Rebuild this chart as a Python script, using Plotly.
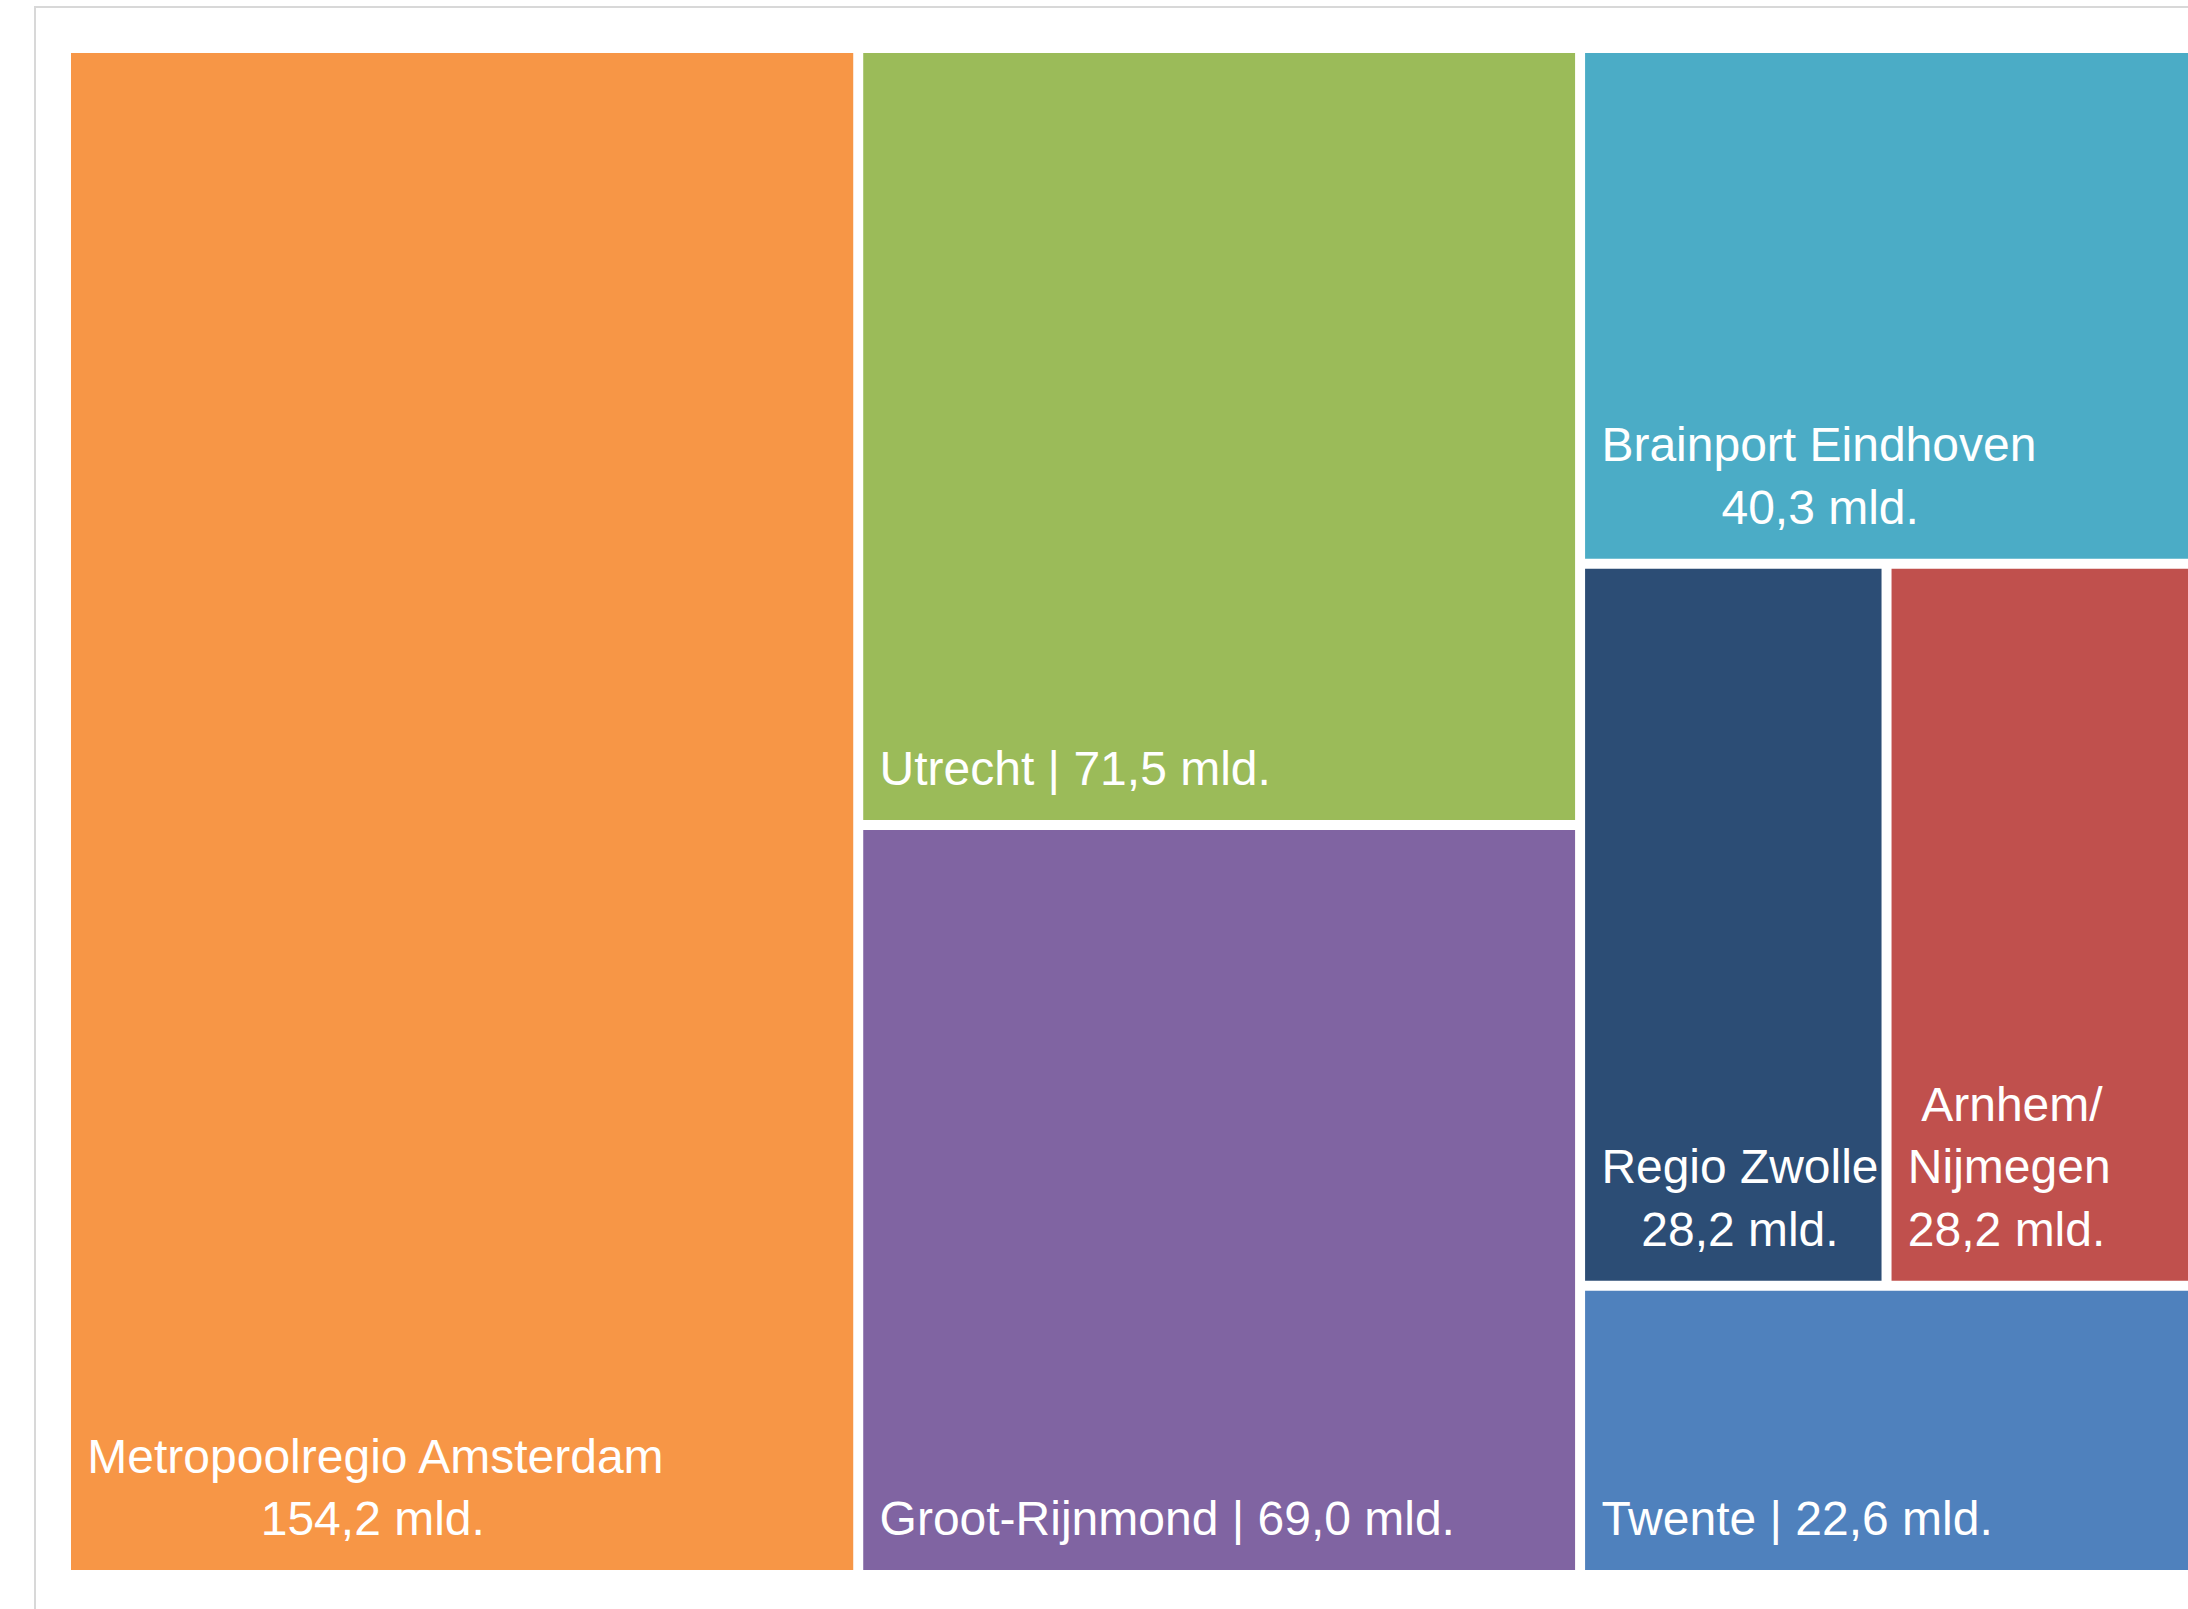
import plotly.graph_objects as go

# ---- data -------------------------------------------------------------
regions = ["Metropoolregio Amsterdam", "Utrecht", "Groot-Rijnmond",
           "Brainport Eindhoven", "Regio Zwolle", "Arnhem/|Nijmegen", "Twente"]
values = [154.2, 71.5, 69.0, 40.3, 28.2, 28.2, 22.6]
value_unit = "mld."
two_line = [True, False, False, True, True, True, False]
colors = ["#F79646", "#9BBB59", "#8064A2", "#4BACC6", "#2C4D75", "#C0504D", "#4F81BD"]
# tiling structure: columns (left->right), rows inside columns, etc.
tiling = [[0], [1, 2], [3, [4, 5], 6]]

# ---- label helpers ----------------------------------------------------
ARIAL = {' ': 278, ',': 278, '-': 333, '.': 278, '/': 278, '|': 260,
         'A': 667, 'B': 667, 'E': 667, 'G': 778, 'M': 833, 'N': 722, 'R': 722,
         'T': 611, 'U': 722, 'Z': 611,
         'a': 556, 'b': 556, 'c': 500, 'd': 556, 'e': 556, 'g': 556, 'h': 556,
         'i': 222, 'j': 222, 'l': 222, 'm': 833, 'n': 556, 'o': 556, 'p': 556,
         'r': 333, 's': 500, 't': 278, 'u': 556, 'v': 500, 'w': 722}
for d in "0123456789":
    ARIAL[d] = 556


def width(s):
    return sum(ARIAL.get(c, 556) for c in s)


NB = "\u00a0"
# tall, nearly zero-width spacer that lifts the label off the tile bottom
LIFT = '<span style="font-size:150px">\u200a</span>'


def make_label(name, val, multi):
    vtxt = f"{val:.1f}".replace(".", ",") + " " + value_unit
    parts = name.split("|")
    if multi:
        lines = parts + [vtxt]
    else:
        lines = [" ".join(parts) + " | " + vtxt]
    wmax = max(width(l) for l in lines)
    out = []
    for l in lines:
        k = int(round((wmax - width(l)) / 2 / ARIAL[' ']))
        out.append(NB + NB * k + l)
    out[-1] += LIFT
    return "<br>".join(out)


ids, parents, vals, cols, texts = [], [], [], [], []


def add_node(nid, par, v, c, t):
    ids.append(nid); parents.append(par); vals.append(v)
    cols.append(c); texts.append(t)


add_node("root", "", 0, "rgba(0,0,0,0)", "")


def build(struct, parent):
    for j, item in enumerate(struct):
        if isinstance(item, list):
            gid = f"{parent}-g{j}"
            add_node(gid, parent, 0, "rgba(0,0,0,0)", "")
            build(item, gid)
        else:
            add_node(regions[item].replace("|", " "), parent, values[item], colors[item],
                     make_label(regions[item], values[item], two_line[item]))


build(tiling, "root")

fig = go.Figure(go.Treemap(
    ids=ids, labels=ids, parents=parents, values=vals,
    branchvalues="remainder", sort=False,
    text=texts, textinfo="text",
    textposition="bottom left",
    textfont=dict(family="Liberation Sans Narrow, Arial Narrow, Liberation Sans, Arial",
                  size=48, color="white"),
    marker=dict(colors=cols, line=dict(color="white", width=0),
                pad=dict(t=0, l=0, r=0, b=0)),
    tiling=dict(packing="slice-dice", pad=10),
    pathbar=dict(visible=False),
    hoverinfo="skip",
    domain=dict(x=[71 / 2188, 1.0], y=[1 - 1570 / 1609, 1 - 53 / 1609]),
))

fig.update_layout(
    width=2188, height=1609,
    margin=dict(l=0, r=0, t=0, b=0),
    paper_bgcolor="white",
    shapes=[dict(type="rect", xref="paper", yref="paper",
                 x0=35 / 2188, x1=1.05, y0=-0.05, y1=1 - 7 / 1609,
                 line=dict(color="#d8d8d8", width=2), fillcolor="rgba(0,0,0,0)",
                 layer="below")],
)

fig.write_html("out.html")
